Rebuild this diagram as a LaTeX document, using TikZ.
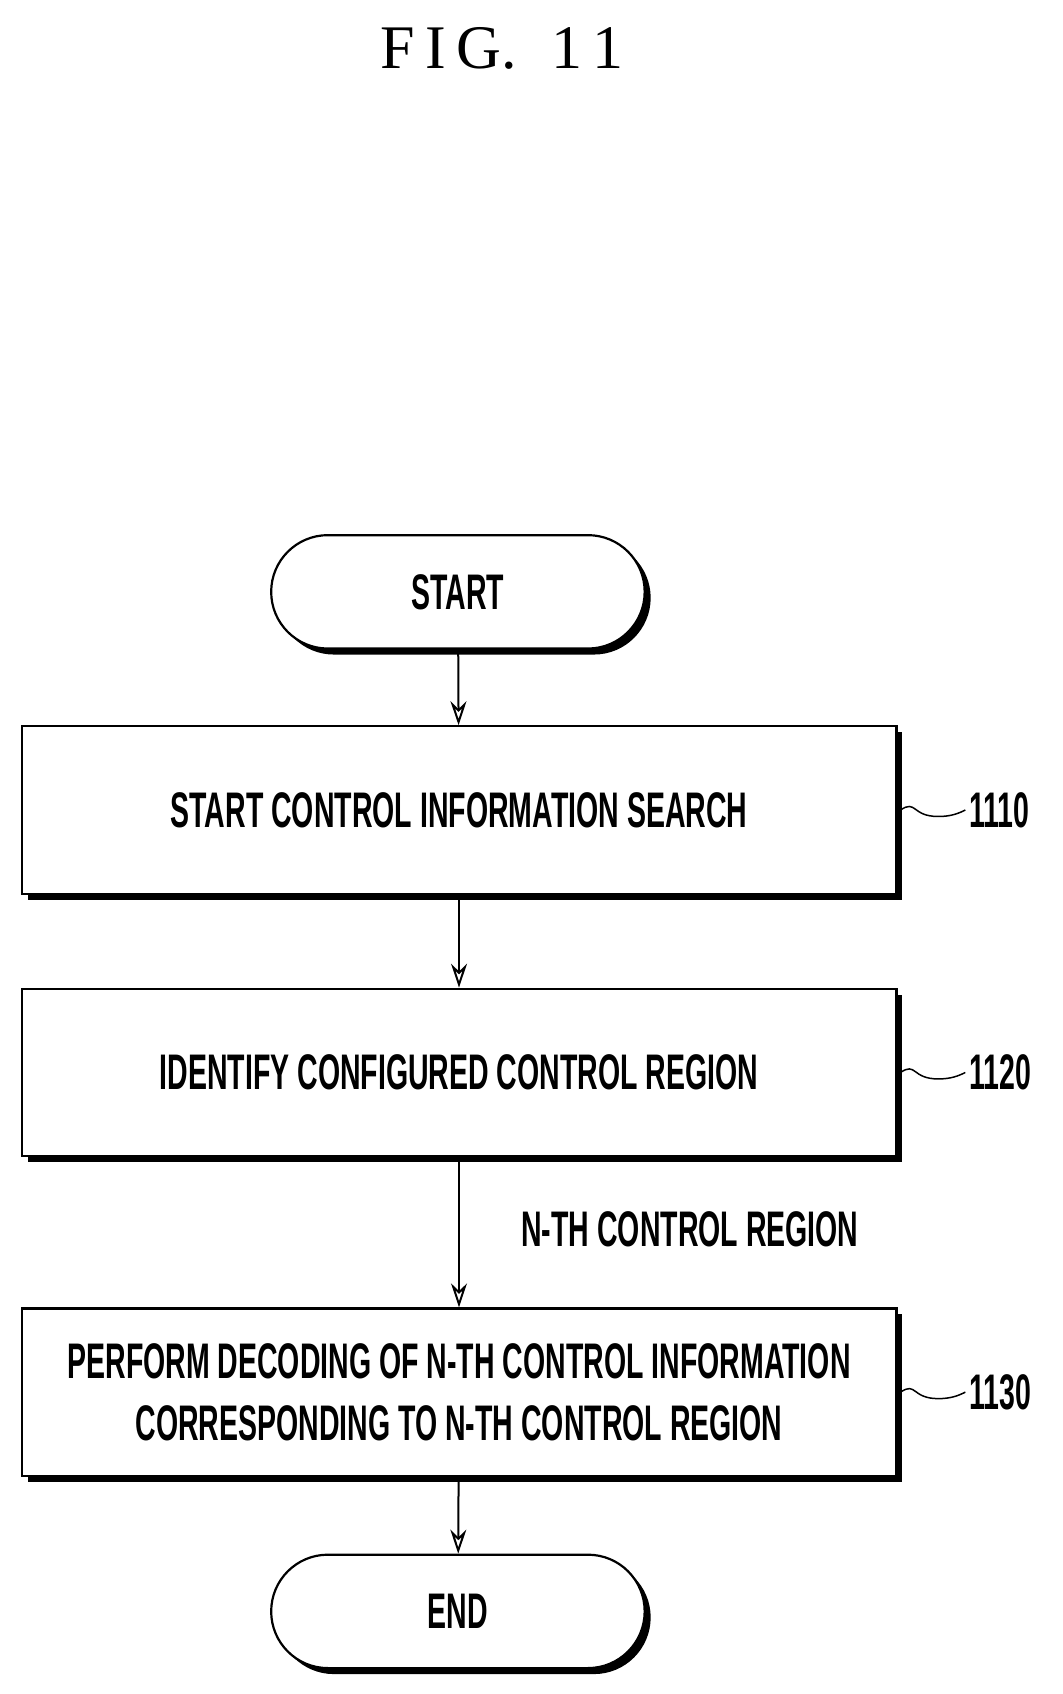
\documentclass[tikz,border=0pt]{standalone}
\usepackage{fontspec}
\setsansfont{Liberation Sans}
\setmainfont{Liberation Serif}
\usetikzlibrary{shapes.misc,arrows.meta,shadows}
\newcommand\cnd[1]{\scalebox{0.57}[1]{#1}}
\begin{document}
\begin{tikzpicture}[x=1.08pt,y=-1.08pt,
  box/.style={draw,line width=2.2pt,fill=white,minimum width=810*1.08pt,minimum height=155*1.08pt,
    font=\sffamily\bfseries\fontsize{50}{62}\selectfont,align=center,
    drop shadow={shadow xshift=6pt,shadow yshift=-6pt,opacity=1,fill=black}},
  term/.style={box,rounded rectangle,minimum width=352*1.08pt,minimum height=105*1.08pt},
  arr/.style={line width=2pt,-{Stealth[length=24pt,width=16pt,open,line width=2pt]}},
  lab/.style={font=\sffamily\bfseries\fontsize{50}{60}\selectfont,anchor=west}]
\useasboundingbox (0,0) rectangle (984,1568.5);
\node at (465,45) {\fontsize{62}{64}\selectfont F\,I\,G.\;\;1\,1};
\node[term] (s) at (424,548) {\cnd{START}};
\node[box] (b1) at (425,750) {\cnd{START CONTROL INFORMATION SEARCH}};
\node[box] (b2) at (425,993) {\cnd{IDENTIFY CONFIGURED CONTROL REGION}};
\node[box] (b3) at (425,1289) {\cnd{PERFORM DECODING OF N-TH CONTROL INFORMATION}\\\cnd{CORRESPONDING TO N-TH CONTROL REGION}};
\node[term] (e) at (424,1492) {\cnd{END}};
\draw[arr] (s) -- (b1);
\draw[arr] (b1) -- (b2);
\draw[arr] (b2) -- node[lab,right=58pt,pos=0.48]{\cnd{N-TH CONTROL REGION}} (b3);
\draw[arr] (b3) -- (e);
\foreach \b/\t in {b1/1110,b2/1120,b3/1130}{
  \coordinate (q\b) at ([xshift=3pt]\b.east);
  \draw[line width=1.5pt] (q\b) .. controls +(15,-10) and +(-25,0) .. +(35,6) .. controls +(12,0) and +(-6,3) .. +(60,0)
    node[lab,anchor=west,inner sep=3pt]{\cnd{\t}};
}
\end{tikzpicture}
\end{document}
